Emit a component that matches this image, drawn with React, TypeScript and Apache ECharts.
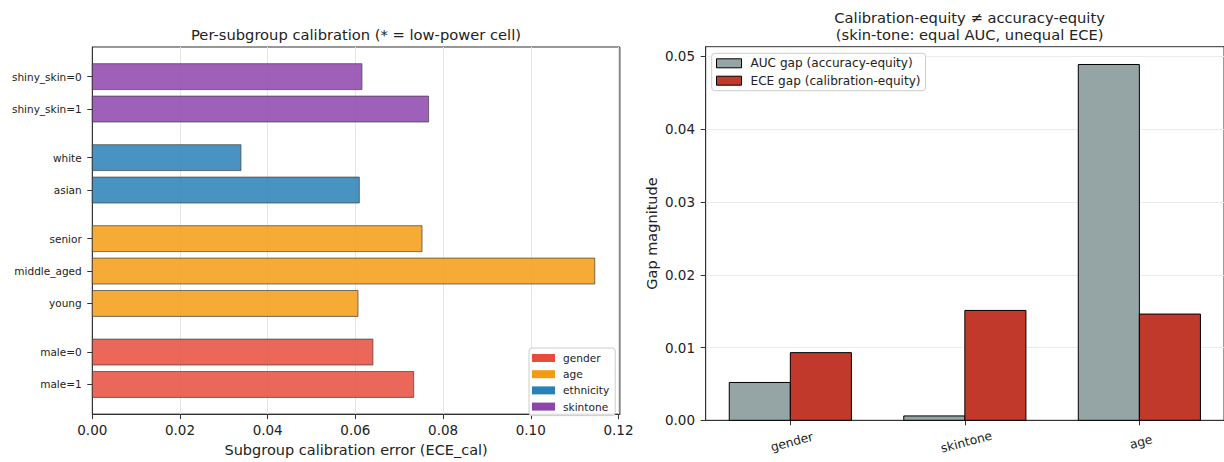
import React, { useEffect, useRef } from "react";
import * as echarts from "echarts";

// ---------- data: left panel (per-subgroup ECE_cal) ----------
const groupNames = ["gender", "age", "ethnicity", "skintone"];
const groupColors = ["#e74c3c", "#f39c12", "#2980b9", "#8e44ad"];
const genderLabels = ["male=1", "male=0"];
const genderECE = [0.0733, 0.064];
const ageLabels = ["young", "middle_aged", "senior"];
const ageECE = [0.0606, 0.1146, 0.0752];
const ethnicityLabels = ["asian", "white"];
const ethnicityECE = [0.0609, 0.0339];
const skintoneLabels = ["shiny_skin=1", "shiny_skin=0"];
const skintoneECE = [0.0767, 0.0615];
const eceTicks = [0, 0.02, 0.04, 0.06, 0.08, 0.1, 0.12];

// ---------- data: right panel (gap comparison) ----------
const gapCategories = ["gender", "skintone", "age"];
const aucGap = [0.0052, 0.0006, 0.0489];
const eceGap = [0.0093, 0.0151, 0.0146];
const gapTicks = [0, 0.01, 0.02, 0.03, 0.04, 0.05];
const gapSeriesNames = ["AUC gap (accuracy-equity)", "ECE gap (calibration-equity)"];
const gapColors = ["#95a5a6", "#c0392b"];

const FONT = "DejaVu Sans";
const TEXT = "#222";
const SPINE = "#333";

function buildOption() {
  const labelLists = [genderLabels, ageLabels, ethnicityLabels, skintoneLabels];
  const valueLists = [genderECE, ageECE, ethnicityECE, skintoneECE];
  const rows: { g: number; label: string; value: number; pos: number }[] = [];
  let pos = 0;
  labelLists.forEach((labels, gi) => {
    labels.forEach((l, i) => {
      rows.push({ g: gi, label: l, value: valueLists[gi][i], pos });
      pos += 1;
    });
    pos += 0.5;
  });
  const barH = 0.8;
  const lo = Math.min(...rows.map((r) => r.pos)) - barH / 2;
  const hi = Math.max(...rows.map((r) => r.pos)) + barH / 2;
  const yLo = lo - 0.05 * (hi - lo);
  const yHi = hi + 0.05 * (hi - lo);
  const xMaxLeft = Math.max(...rows.map((r) => r.value)) * 1.05;

  const bw = 0.35;
  const xLoR = -bw - 0.05 * (gapCategories.length - 1 + 2 * bw);
  const xHiR = gapCategories.length - 1 + bw + 0.05 * (gapCategories.length - 1 + 2 * bw);
  const yMaxR = Math.max(...aucGap, ...eceGap) * 1.05;

  const leftSeries = groupNames.map((name, gi) => ({
    type: "custom",
    name,
    xAxisIndex: 0,
    yAxisIndex: 0,
    itemStyle: { color: groupColors[gi] },
    encode: { x: 0, y: 1 },
    data: rows.filter((r) => r.g === gi).map((r) => [r.value, r.pos]),
    renderItem: (params: any, api: any) => {
      const v = api.value(0);
      const p = api.value(1);
      const a = api.coord([0, p]);
      const b = api.coord([v, p]);
      const h = api.size([0, barH])[1];
      return {
        type: "rect",
        shape: { x: a[0], y: a[1] - h / 2, width: b[0] - a[0], height: h },
        style: { fill: groupColors[gi], stroke: "#3a3a3a", lineWidth: 0.8, opacity: 0.85 },
      };
    },
  }));

  const rightSeries = gapSeriesNames.map((name, si) => ({
    type: "custom",
    name,
    xAxisIndex: 1,
    yAxisIndex: 1,
    itemStyle: { color: gapColors[si] },
    encode: { x: 0, y: 1 },
    data: gapCategories.map((_, i) => [i, si === 0 ? aucGap[i] : eceGap[i]]),
    renderItem: (params: any, api: any) => {
      const c = api.value(0);
      const v = api.value(1);
      const x0 = si === 0 ? c - bw : c;
      const a = api.coord([x0, v]);
      const b = api.coord([x0 + bw, 0]);
      return {
        type: "rect",
        shape: { x: a[0], y: a[1], width: b[0] - a[0], height: b[1] - a[1] },
        style: { fill: gapColors[si], stroke: "#000", lineWidth: 1 },
      };
    },
  }));

  const labelFor = (v: number) => {
    const r = rows.find((rr) => Math.abs(rr.pos - v) < 1e-6);
    return r ? r.label : "";
  };

  return {
    animation: false,
    backgroundColor: "#fff",
    textStyle: { fontFamily: FONT },
    title: [
      {
        text: "Per-subgroup calibration (* = low-power cell)",
        left: 356,
        top: 27,
        padding: 0,
        textAlign: "center",
        textStyle: { fontFamily: FONT, fontSize: 14.7, fontWeight: "normal", color: TEXT },
      },
      {
        text: "Calibration-equity \u2260 accuracy-equity\n(skin-tone: equal AUC, unequal ECE)",
        left: 969.6,
        top: 9,
        padding: 0,
        textAlign: "center",
        textStyle: { fontFamily: FONT, fontSize: 14.7, fontWeight: "normal", color: TEXT, lineHeight: 17 },
      },
    ],
    legend: [
      {
        orient: "vertical",
        left: 529,
        top: 348,
        selectedMode: false,
        icon: "rect",
        itemWidth: 23,
        itemHeight: 8,
        itemGap: 4.2,
        padding: [4, 6, 3, 3],
        borderColor: "#cccccc",
        borderWidth: 1,
        borderRadius: 3,
        backgroundColor: "rgba(255,255,255,0.85)",
        textStyle: { fontFamily: FONT, fontSize: 10.6, lineHeight: 12, color: TEXT, padding: [0, 0, 0, 3] },
        data: groupNames.map((n, i) => ({ name: n, itemStyle: { color: groupColors[i], borderWidth: 0 } })),
      },
      {
        orient: "vertical",
        left: 711.7,
        top: 53.3,
        selectedMode: false,
        icon: "rect",
        itemWidth: 25,
        itemHeight: 9,
        itemGap: 4.4,
        padding: [3.5, 5, 3.5, 4.3],
        borderColor: "#cccccc",
        borderWidth: 1,
        borderRadius: 3,
        backgroundColor: "rgba(255,255,255,0.85)",
        textStyle: { fontFamily: FONT, fontSize: 12.1, lineHeight: 13, color: TEXT, padding: [0, 0, 0, 4] },
        data: gapSeriesNames.map((n, i) => ({
          name: n,
          itemStyle: { color: gapColors[i], borderColor: "#000", borderWidth: 1 },
        })),
      },
    ],
    grid: [
      {
        left: 92.3,
        top: 47,
        width: 527.6,
        height: 373,
        show: true,
        borderColor: SPINE,
        borderWidth: 1,
        backgroundColor: "transparent",
        containLabel: false,
      },
      {
        left: 705.7,
        top: 46.7,
        width: 528,
        height: 373.6,
        show: true,
        borderColor: SPINE,
        borderWidth: 1,
        backgroundColor: "transparent",
        containLabel: false,
      },
    ],
    xAxis: [
      {
        type: "value",
        gridIndex: 0,
        min: 0,
        max: xMaxLeft,
        interval: 0.02,
        name: "Subgroup calibration error (ECE_cal)",
        nameLocation: "middle",
        nameGap: 27,
        nameTextStyle: { fontFamily: FONT, fontSize: 14.5, color: TEXT },
        axisLine: { show: true, onZero: false, lineStyle: { color: SPINE, width: 1 } },
        axisTick: { show: true, length: 5, lineStyle: { color: SPINE }, customValues: eceTicks },
        axisLabel: {
          customValues: eceTicks,
          formatter: (v: number) => v.toFixed(2),
          fontFamily: FONT,
          fontSize: 13.5,
          color: TEXT,
          margin: 9,
        },
        splitLine: { show: true, lineStyle: { color: "#e6e6e6", width: 1 } },
      },
      {
        type: "value",
        gridIndex: 1,
        min: xLoR,
        max: xHiR,
        axisLine: { show: true, onZero: false, lineStyle: { color: SPINE, width: 1 } },
        axisTick: { show: true, length: 5, lineStyle: { color: SPINE }, customValues: [0, 1, 2] },
        axisLabel: {
          customValues: [0, 1, 2],
          formatter: (v: number) => gapCategories[Math.round(v)] ?? "",
          rotate: 15,
          align: "center",
          verticalAlign: "top",
          fontFamily: FONT,
          fontSize: 12.3,
          color: TEXT,
          margin: 16,
        },
        splitLine: { show: false },
      },
    ],
    yAxis: [
      {
        type: "value",
        gridIndex: 0,
        min: yLo,
        max: yHi,
        axisLine: { show: true, onZero: false, lineStyle: { color: SPINE, width: 1 } },
        axisTick: { show: true, length: 5, lineStyle: { color: SPINE }, customValues: rows.map((r) => r.pos) },
        axisLabel: {
          customValues: rows.map((r) => r.pos),
          formatter: (v: number) => labelFor(v),
          fontFamily: FONT,
          fontSize: 10.5,
          color: TEXT,
          margin: 10.6,
        },
        splitLine: { show: false },
      },
      {
        type: "value",
        gridIndex: 1,
        min: 0,
        max: yMaxR,
        interval: 0.01,
        name: "Gap magnitude",
        nameLocation: "middle",
        nameGap: 46,
        nameTextStyle: { fontFamily: FONT, fontSize: 14.5, color: TEXT },
        axisLine: { show: true, onZero: false, lineStyle: { color: SPINE, width: 1 } },
        axisTick: { show: true, length: 5, lineStyle: { color: SPINE }, customValues: gapTicks },
        axisLabel: {
          customValues: gapTicks,
          formatter: (v: number) => v.toFixed(2),
          fontFamily: FONT,
          fontSize: 13.5,
          color: TEXT,
          margin: 10.7,
        },
        splitLine: { show: true, lineStyle: { color: "#ebebeb", width: 1 } },
      },
    ],
    series: [...leftSeries, ...rightSeries],
  };
}

export default function App() {
  const ref = useRef<HTMLDivElement>(null);
  useEffect(() => {
    if (!ref.current) return;
    const chart = echarts.init(ref.current, undefined, { renderer: "svg" });
    chart.setOption(buildOption() as any);
    return () => chart.dispose();
  }, []);
  return (
    <div
      ref={ref}
      style={{ position: "fixed", left: 0, top: 0, width: 1224, height: 462, background: "#fff" }}
    />
  );
}
